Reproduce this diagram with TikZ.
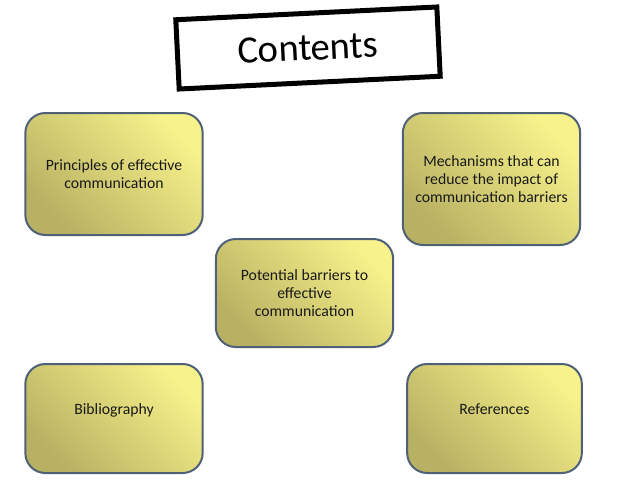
\documentclass[tikz,border=0pt]{standalone}
\usepackage{fontspec}
\setmainfont{Carlito}
\usetikzlibrary{positioning}
\definecolor{boxlight}{HTML}{F7F28B}
\definecolor{boxdark}{HTML}{B8B062}
\definecolor{boxline}{HTML}{4E6176}

\begin{document}
\begin{tikzpicture}[x=0.75pt,y=-0.75pt,
  topic/.style={draw=boxline,line width=1.5pt,rounded corners=15pt,bottom color=boxdark,top color=boxlight,shading angle=-45,align=center,font=\fontsize{11.8}{13.5}\selectfont,text=black!90,minimum width=133pt},
  heading/.style={draw=black,line width=3.75pt,minimum width=196pt,minimum height=52pt,rotate=2.8,font=\fontsize{29}{33}\selectfont}]
\useasboundingbox (0,0) rectangle (638,479);
\node[heading] (cont) at (308,48) {Contents};
\node[topic,minimum height=91.5pt] (prin) at (114,174) {Principles of effective\\communication};
\node[topic,minimum height=99pt] (mech) at (491.5,179) {Mechanisms that can\\reduce the impact of\\communication barriers};
\node[topic,minimum height=81pt] (pot) at (304.5,293) {Potential barriers to\\effective\\communication};
\node[topic,minimum height=81.75pt,text depth=14pt] (bib) at (114,418.5) {Bibliography};
\node[topic,minimum height=81.75pt,minimum width=131pt,text depth=14pt] (refs) at (494.5,418.5) {References};
\end{tikzpicture}
\end{document}
